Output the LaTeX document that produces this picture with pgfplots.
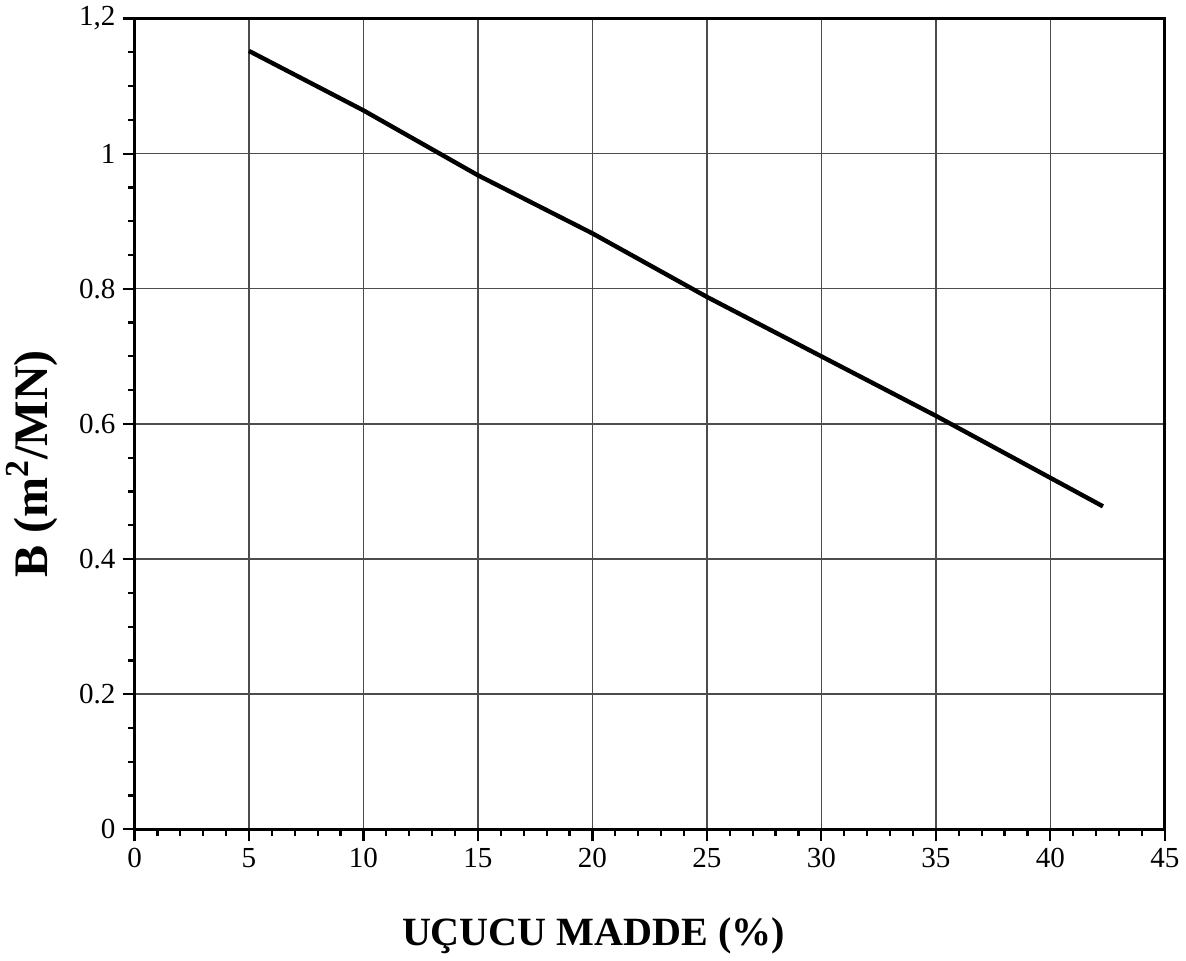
\documentclass[border=0pt]{standalone}
\usepackage{pgfplots}
\pgfplotsset{compat=1.18}
\usepackage{fontspec}
\setmainfont{Liberation Serif}
\begin{document}
\begin{tikzpicture}
\begin{axis}[
  scale only axis,
  width=514pt, height=404.5pt,
  xmin=0, xmax=45, ymin=0, ymax=1.2,
  xtick={0,5,...,45},
  ytick={0,0.2,0.4,0.6,0.8,1,1.2},
  yticklabels={0,0.2,0.4,0.6,0.8,1,{1,2}},
  minor x tick num=4,
  minor y tick num=3,
  tick align=outside,
  xtick pos=bottom, ytick pos=left,
  major tick length=6pt, minor tick length=3.5pt,
  tick style={black, line width=1.1pt},
  axis line style={line width=1.4pt},
  grid=major,
  major grid style={black!70, line width=0.7pt},
  /pgf/number format/assume math mode=true,
  ticklabel style={font=\fontsize{14.5}{16}\selectfont},
  xlabel={\textbf{UÇUCU MADDE (\%)}},
  ylabel={\textbf{B (m\textsuperscript{2}/MN)}},
  xlabel style={font=\fontsize{20}{22}\selectfont, yshift=-18pt, xshift=-28pt},
  ylabel style={font=\fontsize{24}{26}\selectfont, yshift=4pt, xshift=-20pt},
]
\addplot[black, line width=2.2pt] coordinates {
(5,1.152) (10,1.064) (15,0.968) (20,0.882) (25,0.788) (30,0.700) (35,0.612) (42.3,0.478)
};
\end{axis}
\end{tikzpicture}
\end{document}
